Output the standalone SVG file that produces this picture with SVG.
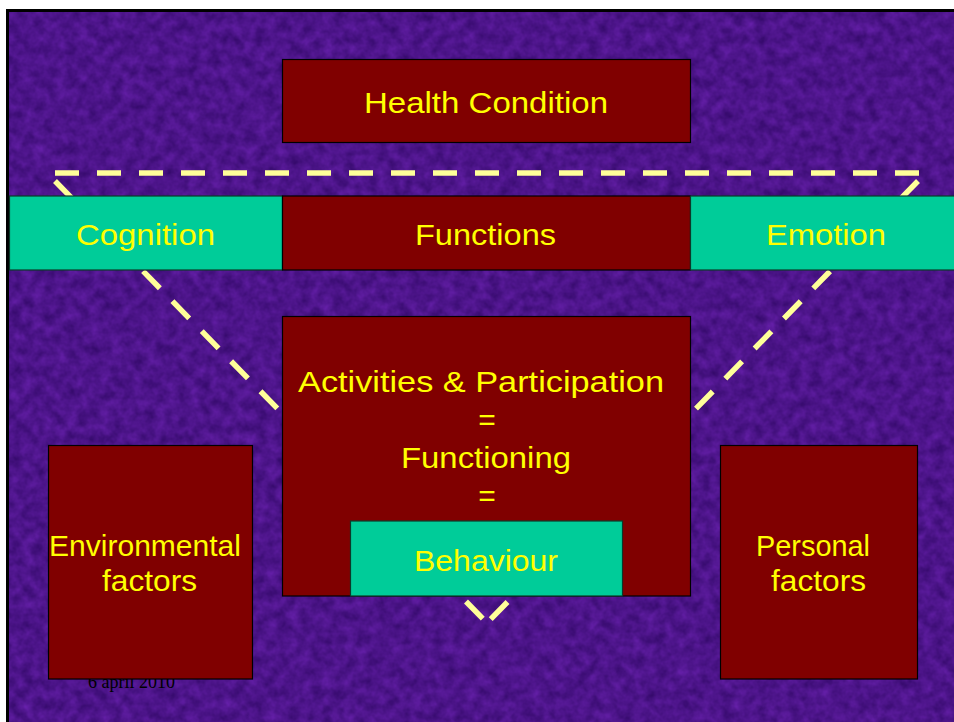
<svg xmlns="http://www.w3.org/2000/svg" width="954" height="722" viewBox="0 0 954 722">
<style>
.bg{fill:#4a168a}
.mar{fill:#800000;stroke:#000;stroke-width:1.2}
.teal{fill:#00cc99;stroke:#0a3a2a;stroke-width:1.2}
.lbl{font-family:"Liberation Sans",Arial,sans-serif;fill:#ffff00;font-size:30px}
.dash{stroke:#ffff99;stroke-width:5.5;stroke-dasharray:24 18;fill:none;stroke-linecap:butt}
.date{font-family:"Liberation Serif","Times New Roman",serif;font-size:18px;fill:#000}
</style>
<defs>
<filter id="tex" x="0" y="0" width="100%" height="100%" filterUnits="objectBoundingBox" color-interpolation-filters="sRGB">
<feTurbulence type="fractalNoise" baseFrequency="0.09" numOctaves="3" seed="7"/>
<feColorMatrix type="matrix" values="0.22 0 0 0 0.19  0.1 0 0 0 0.03  0.28 0 0 0 0.40  0 0 0 0 1"/>
</filter>
</defs>
<rect x="0" y="0" width="954" height="722" fill="#ffffff"/>
<g id="background">
<rect x="7.5" y="10.5" width="960" height="720" class="bg"/>
<rect x="7.5" y="10.5" width="960" height="720" filter="url(#tex)"/>
<rect x="7.5" y="10.5" width="960" height="720" fill="none" stroke="#000" stroke-width="3"/>
</g>
<text class="date" x="88" y="688">6 april 2010</text>
<g id="connectors">
<line class="dash" x1="55" y1="173" x2="919" y2="173"/>
<line class="dash" x1="55" y1="181" x2="487" y2="623"/>
<line class="dash" x1="918" y1="181" x2="487" y2="623"/>
</g>
<g id="health-condition">
<rect class="mar" x="282.5" y="59.5" width="408" height="83"/>
<text class="lbl" x="364" y="113" font-size="32" textLength="244" lengthAdjust="spacingAndGlyphs">Health Condition</text>
</g>
<g id="cognition">
<rect class="teal" x="9.5" y="196" width="273" height="74"/>
<text class="lbl" x="76" y="245" textLength="139" lengthAdjust="spacingAndGlyphs">Cognition</text>
</g>
<g id="functions">
<rect class="mar" x="282.5" y="196" width="408" height="74"/>
<text class="lbl" x="415" y="245" textLength="141" lengthAdjust="spacingAndGlyphs">Functions</text>
</g>
<g id="emotion">
<rect class="teal" x="690.5" y="196" width="270" height="74"/>
<text class="lbl" x="766" y="245" textLength="120" lengthAdjust="spacingAndGlyphs">Emotion</text>
</g>
<g id="activities">
<rect class="mar" x="282.5" y="316.5" width="408" height="279.5"/>
<text class="lbl" x="298" y="392" textLength="366" lengthAdjust="spacingAndGlyphs">Activities &amp; Participation</text>
<text class="lbl" x="487" y="430" text-anchor="middle">=</text>
<text class="lbl" x="401" y="468" textLength="170" lengthAdjust="spacingAndGlyphs">Functioning</text>
<text class="lbl" x="487" y="506" text-anchor="middle">=</text>
</g>
<g id="behaviour">
<rect class="teal" x="350.5" y="521" width="272" height="75"/>
<text class="lbl" x="414" y="571" textLength="144" lengthAdjust="spacingAndGlyphs">Behaviour</text>
</g>
<g id="environmental-factors">
<rect class="mar" x="48.5" y="445.5" width="204" height="233.5"/>
<text class="lbl" x="49" y="556" font-size="28" textLength="192" lengthAdjust="spacingAndGlyphs">Environmental</text>
<text class="lbl" x="102" y="591" font-size="28" textLength="95" lengthAdjust="spacingAndGlyphs">factors</text>
</g>
<g id="personal-factors">
<rect class="mar" x="720.5" y="445.5" width="197" height="233.5"/>
<text class="lbl" x="756" y="556" font-size="28" textLength="114" lengthAdjust="spacingAndGlyphs">Personal</text>
<text class="lbl" x="771" y="591" font-size="28" textLength="95" lengthAdjust="spacingAndGlyphs">factors</text>
</g>
</svg>
